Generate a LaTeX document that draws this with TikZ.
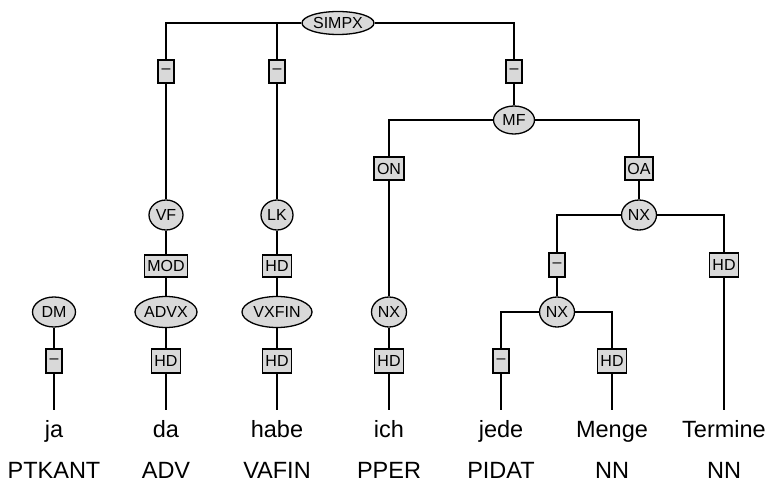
\documentclass[tikz,border=0pt]{standalone}
\usepackage{fontspec}
\setmainfont{Liberation Sans}
\usetikzlibrary{shapes.geometric}
\definecolor{nodefill}{HTML}{D9D9D9}
\tikzset{
  cat/.style={ellipse, draw, fill=nodefill, line width=1.3pt, inner sep=0pt,
    font=\fontsize{16}{19}\selectfont},
  edgelab/.style={rectangle, draw, fill=nodefill, line width=1.3pt, inner sep=0pt,
    minimum height=23pt, font=\fontsize{16}{19}\selectfont},
  word/.style={anchor=base, inner sep=0pt, font=\fontsize{23.5}{27}\selectfont},
  link/.style={line width=1.6pt},
}
\begin{document}
\begin{tikzpicture}[x=1pt,y=-1pt]
\useasboundingbox (0,0) rectangle (767,484);

% categories
\node[cat, minimum width=72pt, minimum height=23pt] (simpx) at (338,23) {SIMPX};
\node[cat, minimum width=41pt, minimum height=28pt] (mf) at (514,120) {MF};
\node[cat, minimum width=34pt, minimum height=30pt] (vf) at (166,215) {VF};
\node[cat, minimum width=32pt, minimum height=30pt] (lk) at (277,215) {LK};
\node[cat, minimum width=35pt, minimum height=30pt] (nxoa) at (639,215) {NX};
\node[cat, minimum width=43pt, minimum height=30pt] (dm) at (54,312) {DM};
\node[cat, minimum width=62pt, minimum height=31pt] (advx) at (166,312) {ADVX};
\node[cat, minimum width=70pt, minimum height=31pt] (vxfin) at (277,312) {VXFIN};
\node[cat, minimum width=35pt, minimum height=30pt] (nxon) at (389,312) {NX};
\node[cat, minimum width=35pt, minimum height=30pt] (nxin) at (557,312) {NX};

% edge labels
\node[edgelab, minimum width=16pt] (e1) at (166,71.5) {–};
\node[edgelab, minimum width=16pt] (e2) at (277,71.5) {–};
\node[edgelab, minimum width=16pt] (e3) at (514,71.5) {–};
\node[edgelab, minimum width=30pt] (on) at (389,168.5) {ON};
\node[edgelab, minimum width=28pt] (oa) at (639,168.5) {OA};
\node[edgelab, minimum width=43pt, minimum height=22pt] (mod) at (166,266) {MOD};
\node[edgelab, minimum width=29pt, minimum height=22pt] (hdlk) at (277,266) {HD};
\node[edgelab, minimum width=16pt, minimum height=24pt] (e4) at (557,265) {–};
\node[edgelab, minimum width=29pt, minimum height=24pt] (hdt) at (724,265) {HD};
\node[edgelab, minimum width=16pt, minimum height=24pt] (e5) at (54,361) {–};
\node[edgelab, minimum width=29pt, minimum height=24pt] (hd1) at (166,361) {HD};
\node[edgelab, minimum width=29pt, minimum height=24pt] (hd2) at (277,361) {HD};
\node[edgelab, minimum width=29pt, minimum height=24pt] (hd3) at (389,361) {HD};
\node[edgelab, minimum width=16pt, minimum height=24pt] (e6) at (501,361) {–};
\node[edgelab, minimum width=29pt, minimum height=24pt] (hd4) at (612,361) {HD};

% word ends of the leaf links
\coordinate (t1) at (54,410);
\coordinate (t2) at (166,410);
\coordinate (t3) at (277,410);
\coordinate (t4) at (389,410);
\coordinate (t5) at (501,410);
\coordinate (t6) at (612,410);
\coordinate (t7) at (724,410);

% words and tags
\foreach \x/\w/\p [count=\i] in {54/ja/PTKANT, 166/da/ADV, 277/habe/VAFIN,
    389/ich/PPER, 501/jede/PIDAT, 612/Menge/NN, 724/Termine/NN} {
  \node[word] (w\i) at (\x,437) {\w};
  \node[word] (p\i) at (\x,478) {\p};
}

% links
\begin{scope}[link]
\draw (simpx) -| (e1);
\draw (simpx) -| (e2);
\draw (simpx) -| (e3);
\draw (e1) -- (vf) -- (mod) -- (advx) -- (hd1) -- (t2);
\draw (e2) -- (lk) -- (hdlk) -- (vxfin) -- (hd2) -- (t3);
\draw (e3) -- (mf);
\draw (mf) -| (on);
\draw (mf) -| (oa);
\draw (on) -- (nxon) -- (hd3) -- (t4);
\draw (oa) -- (nxoa);
\draw (nxoa) -| (e4);
\draw (nxoa) -| (hdt);
\draw (hdt) -- (t7);
\draw (e4) -- (nxin);
\draw (nxin) -| (e6);
\draw (nxin) -| (hd4);
\draw (e6) -- (t5);
\draw (hd4) -- (t6);
\draw (dm) -- (e5) -- (t1);
\end{scope}
\end{tikzpicture}
\end{document}
